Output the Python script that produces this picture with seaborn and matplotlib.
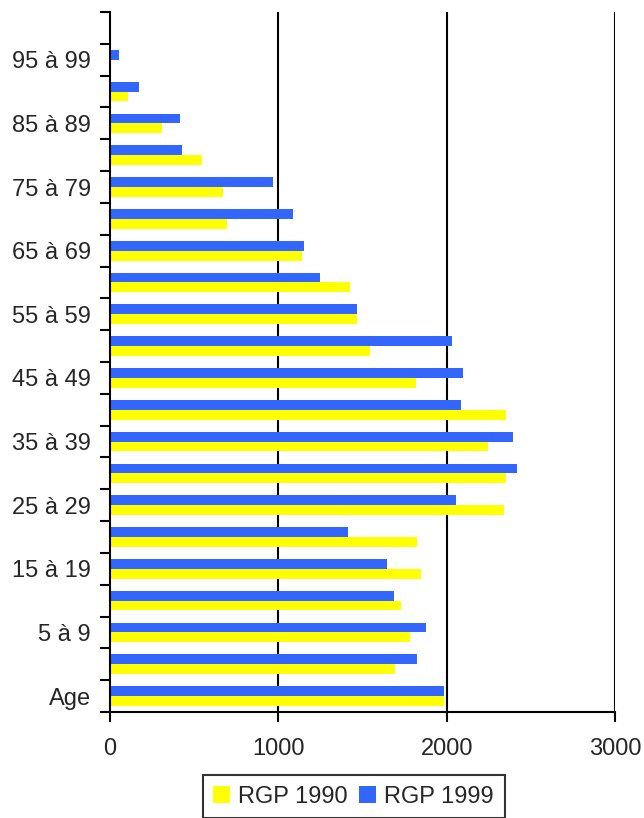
import matplotlib
matplotlib.use("Agg")
import matplotlib.pyplot as plt
import seaborn as sns
import pandas as pd
import numpy as np
from matplotlib.patches import Patch

# categories from bottom to top
ages = ["Age", "0 à 4", "5 à 9", "10 à 14", "15 à 19", "20 à 24", "25 à 29",
        "30 à 34", "35 à 39", "40 à 44", "45 à 49", "50 à 54", "55 à 59",
        "60 à 64", "65 à 69", "70 à 74", "75 à 79", "80 à 84", "85 à 89",
        "90 à 94", "95 à 99"]
rgp1990 = [1985, 1690, 1782, 1730, 1846, 1825, 2338, 2350, 2243, 2350, 1816,
           1543, 1466, 1424, 1139, 694, 670, 546, 308, 107, 0]
rgp1999 = [1982, 1824, 1878, 1688, 1646, 1412, 2053, 2415, 2392, 2083, 2095,
           2030, 1466, 1246, 1151, 1086, 967, 427, 415, 172, 53]
shown_labels = ["Age", "5 à 9", "15 à 19", "25 à 29", "35 à 39", "45 à 49",
                "55 à 59", "65 à 69", "75 à 79", "85 à 89", "95 à 99"]
series = ["RGP 1990", "RGP 1999"]
colors = {"RGP 1990": "#FFFF00", "RGP 1999": "#3366FF"}
xticks = [0, 1000, 2000, 3000]

df = pd.DataFrame({
    "age": ages * 2,
    "value": rgp1990 + rgp1999,
    "serie": [series[0]] * len(ages) + [series[1]] * len(ages),
})

sns.set_style("white")
plt.rcParams["font.family"] = ["Liberation Sans", "DejaVu Sans"]

fig = plt.figure(figsize=(6.44, 8.18), dpi=100)
ax = fig.add_axes([0.171, 0.1296, 0.784, 0.8557])

order = ages[::-1]  # top to bottom
sns.barplot(data=df, y="age", x="value", hue="serie", order=order,
            hue_order=["RGP 1999", "RGP 1990"], palette=colors,
            orient="h", width=0.62, saturation=1, linewidth=0, ax=ax,
            legend=False)

n = len(ages)
ax.set_ylim(n - 0.5, -1.5)
ax.set_xlim(0, 3000)
ax.set_xticks(xticks)
ax.set_xticklabels([str(v) for v in xticks], fontsize=17)
ax.tick_params(axis="x", direction="out", length=7, width=1.5, color="black",
               pad=12, bottom=True)

# labels on every other category, tick marks at boundaries
ax.set_yticks([order.index(l) for l in shown_labels])
ax.set_yticklabels(shown_labels, fontsize=17)
ax.tick_params(axis="y", which="major", length=0, pad=14)
ax.set_yticks(np.arange(-1.5, n, 1.0), minor=True)
ax.tick_params(axis="y", which="minor", direction="out", length=7, width=1.5,
               color="black", left=True)

ax.set_xlabel("")
ax.set_ylabel("")
for v in xticks[1:]:
    ax.axvline(v, color="black", linewidth=1.5, zorder=0)
for s in ["top", "right"]:
    ax.spines[s].set_visible(False)
for s in ["left", "bottom"]:
    ax.spines[s].set_color("black")
    ax.spines[s].set_linewidth(1.5)

handles = [Patch(facecolor=colors[s], edgecolor="none", label=s) for s in series]
leg = fig.legend(handles=handles, loc="upper center", bbox_to_anchor=(0.549, 0.0526),
                 ncol=2, fontsize=17, frameon=True, fancybox=False,
                 handlelength=0.7, handleheight=0.7, handletextpad=0.35,
                 columnspacing=0.5, borderpad=0.45, borderaxespad=0)
leg.get_frame().set_edgecolor("black")
leg.get_frame().set_linewidth(1.5)

fig.savefig("out.png", dpi=100)
